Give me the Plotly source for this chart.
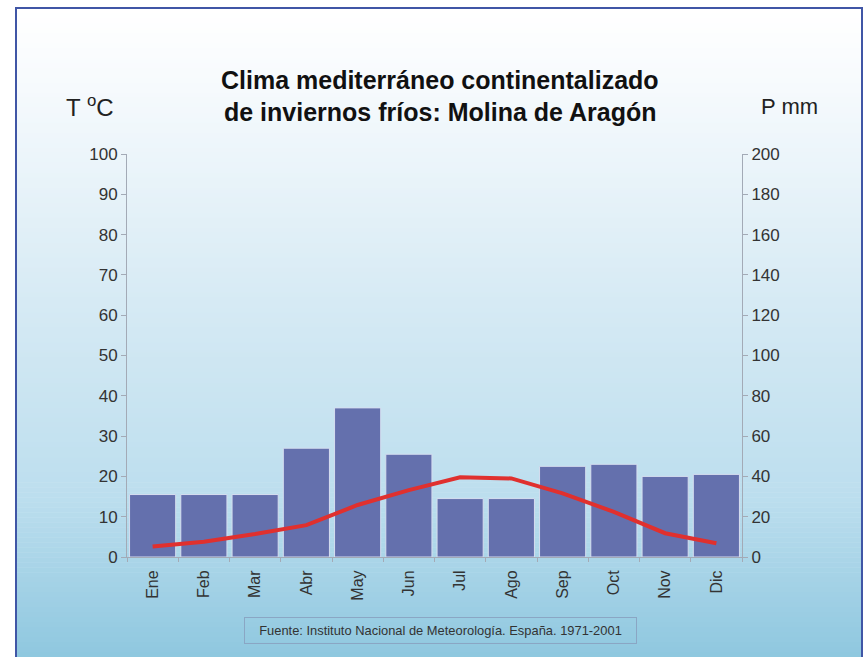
import plotly.graph_objects as go

# Climate data: Molina de Aragón (1971-2001)
months = ["Ene", "Feb", "Mar", "Abr", "May", "Jun", "Jul", "Ago", "Sep", "Oct", "Nov", "Dic"]
precip_mm = [31, 31, 31, 54, 74, 51, 29, 29, 45, 46, 40, 41]
temp_c = [2.6, 3.8, 5.7, 7.9, 12.9, 16.6, 19.8, 19.5, 15.8, 11.2, 5.9, 3.4]

temp_ticks = list(range(0, 101, 10))
precip_ticks = list(range(0, 201, 20))

W, H = 864, 657
M_L, M_R, M_T, M_B = 127, 122, 154, 100
PW, PH = W - M_L - M_R, H - M_T - M_B
font_family = "Liberation Sans, Arial, sans-serif"
axis_grey = "#a3aab6"
tick_font = dict(family=font_family, size=17, color="#333333")


def px_x(x):
    return (x - M_L) / PW


def px_y(y):
    return (H - M_B - y) / PH


fig = go.Figure()

# Precipitation bars (right axis)
fig.add_trace(go.Bar(
    x=months, y=precip_mm, yaxis="y",
    marker=dict(color="#6470ad", line=dict(color="#d6def0", width=1)),
    hoverinfo="x+y", showlegend=False,
))

# Temperature line (left axis), drawn above the bars
fig.add_trace(go.Scatter(
    x=months, y=temp_c, yaxis="y2", mode="lines",
    line=dict(color="#e0302e", width=4),
    showlegend=False,
))

# Vertical background gradient built from thin horizontal strips
def lerp(c1, c2, t):
    return tuple(round(a + (b - a) * t) for a, b in zip(c1, c2))

stops = [(0.0, (255, 255, 255)), (0.12, (246, 250, 253)), (0.45, (214, 234, 244)),
         (0.75, (188, 222, 238)), (1.0, (142, 199, 223))]

def grad_color(t):
    for (t0, c0), (t1, c1) in zip(stops[:-1], stops[1:]):
        if t0 <= t <= t1:
            return "rgb(%d,%d,%d)" % lerp(c0, c1, (t - t0) / (t1 - t0))
    return "rgb(%d,%d,%d)" % stops[-1][1]

shapes = []
top_px, bottom_px = 8, H
left_px, right_px = 16, 862
n = 130
for i in range(n):
    y0 = top_px + (bottom_px - top_px) * i / n
    y1 = min(top_px + (bottom_px - top_px) * (i + 1) / n + 0.6, H)
    shapes.append(dict(
        type="rect", xref="paper", yref="paper", layer="below",
        x0=px_x(left_px), x1=px_x(right_px),
        y0=px_y(y1), y1=px_y(y0),
        fillcolor=grad_color((y0 - top_px) / (bottom_px - top_px)),
        line=dict(width=0),
    ))

# Dark blue frame
shapes.append(dict(
    type="rect", xref="paper", yref="paper", layer="above",
    x0=px_x(left_px), x1=px_x(right_px),
    y0=px_y(H + 5), y1=px_y(top_px),
    fillcolor="rgba(0,0,0,0)", line=dict(color="#4056a6", width=2),
))

annotations = [
    dict(text="<b>Clima mediterráneo continentalizado</b>", x=440, y=80,
         font=dict(family=font_family, size=25, color="#111111")),
    dict(text="<b>de inviernos fríos: Molina de Aragón</b>", x=440, y=112,
         font=dict(family=font_family, size=25, color="#111111")),
    dict(text="T <sup>o</sup>C", x=90, y=106, font=dict(family=font_family, size=24, color="#222222")),
    dict(text="P mm", x=789, y=106, font=dict(family=font_family, size=22, color="#222222")),
]
for a in annotations:
    a.update(xref="paper", yref="paper", showarrow=False,
             xanchor="center", yanchor="middle")
    a["x"] = px_x(a["x"])
    a["y"] = px_y(a["y"])

annotations.append(dict(
    text="Fuente: Instituto Nacional de Meteorología. España. 1971-2001",
    xref="paper", yref="paper", showarrow=False,
    x=px_x(440), y=px_y(630), xanchor="center", yanchor="middle",
    width=389, height=23, borderpad=1,
    bordercolor="#8aa6c4", borderwidth=1,
    font=dict(family=font_family, size=12.9, color="#333333"),
))

fig.update_layout(
    width=W, height=H,
    margin=dict(l=M_L, r=M_R, t=M_T, b=M_B),
    paper_bgcolor="white", plot_bgcolor="rgba(0,0,0,0)",
    bargap=0.1,
    shapes=shapes, annotations=annotations,
    xaxis=dict(
        type="category", range=[-0.5, 11.5], showgrid=False,
        showline=True, linecolor=axis_grey, linewidth=1,
        ticks="outside", tickson="boundaries", ticklen=4, tickcolor=axis_grey,
        tickangle=-90, tickfont=dict(family=font_family, size=16, color="#333333"),
        ticklabelstandoff=6, fixedrange=True,
    ),
    yaxis=dict(
        side="right", range=[0, 200], tickvals=precip_ticks,
        showgrid=False, zeroline=False,
        showline=True, linecolor=axis_grey, linewidth=1,
        ticks="outside", ticklen=5, tickcolor=axis_grey,
        tickfont=tick_font,
    ),
    yaxis2=dict(
        overlaying="y", side="left", range=[0, 100], tickvals=temp_ticks,
        showgrid=False, zeroline=False,
        showline=True, linecolor=axis_grey, linewidth=1,
        ticks="outside", ticklen=5, tickcolor=axis_grey,
        tickfont=tick_font,
    ),
)

fig.write_html("out.html")
